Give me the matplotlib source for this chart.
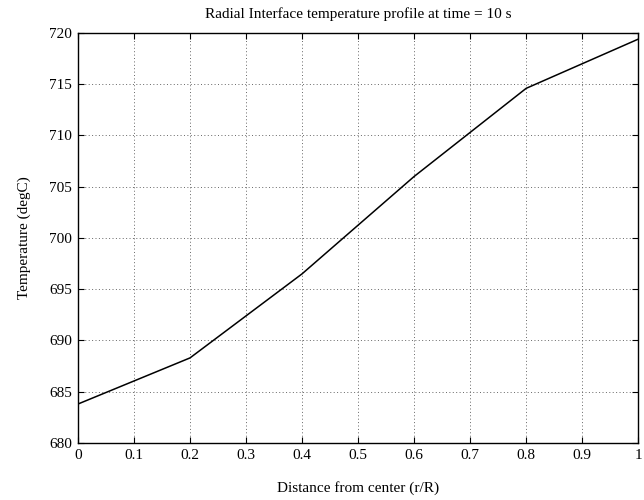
import matplotlib
matplotlib.use('Agg')
import matplotlib.pyplot as plt

plt.rcParams['font.family'] = ['Liberation Serif', 'DejaVu Serif']

# 数据
r_over_R = [0.0, 0.2, 0.4, 0.6, 0.8, 1.0]
temp_c = [683.8, 688.3, 696.5, 706.0, 714.6, 719.4]
x_ticks = [0, 0.1, 0.2, 0.3, 0.4, 0.5, 0.6, 0.7, 0.8, 0.9, 1]
x_tick_labels = ['0', '0.1', '0.2', '0.3', '0.4', '0.5', '0.6', '0.7', '0.8', '0.9', '1']
y_ticks = [680, 685, 690, 695, 700, 705, 710, 715, 720]

fig = plt.figure(figsize=(6.44, 5.0), dpi=100)
ax = fig.add_axes([0.121, 0.114, 0.870, 0.820])

ax.plot(r_over_R, temp_c, color='black', linewidth=1.1)

ax.set_xlim(0, 1)
ax.set_ylim(680, 720)
ax.set_xticks(x_ticks)
ax.set_xticklabels(x_tick_labels)
ax.set_yticks(y_ticks)
ax.tick_params(direction='in', top=True, right=True, labelsize=11, length=4, width=0.8, pad=4)
ax.grid(True, linestyle=(0, (1, 2.5)), color='#666666', linewidth=0.7)
for s in ax.spines.values():
    s.set_linewidth(1.0)

ax.set_title('Radial Interface temperature profile at time = 10 s', fontsize=11, pad=11)
ax.set_xlabel('Distance from center (r/R)', fontsize=11, labelpad=14)
ax.set_ylabel('Temperature (degC)', fontsize=11, labelpad=13)

fig.savefig('out.png', dpi=100)
